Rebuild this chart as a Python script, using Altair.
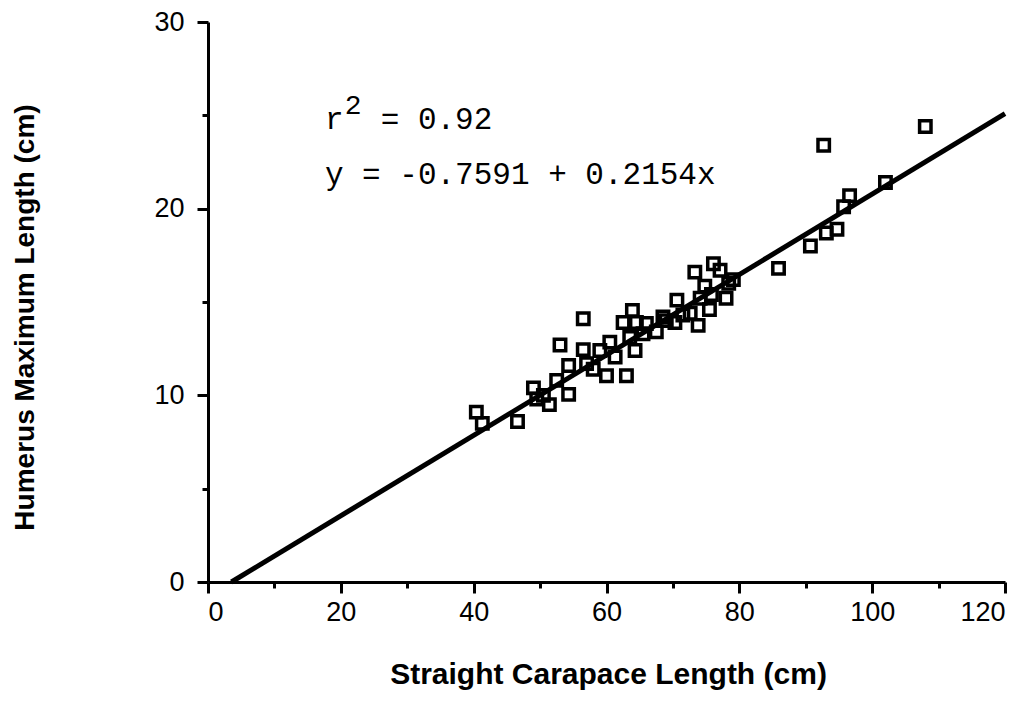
import altair as alt
import pandas as pd

scl = [40.4, 41.3, 46.6, 49.0, 49.5, 50.5, 51.4, 52.5, 53.0, 54.3,
       54.3, 56.5, 56.5, 57.0, 58.0, 59.0, 60.0, 60.5, 61.3, 62.5,
       63.0, 63.5, 63.9, 64.3, 64.5, 65.5, 66.0, 67.5, 68.5, 69.0,
       70.3, 70.6, 71.5, 72.6, 73.3, 73.8, 74.1, 74.8, 75.5, 75.8,
       76.1, 77.1, 78.0, 78.4, 79.1, 85.9, 90.7, 93.1, 94.7, 92.7,
       95.7, 96.6, 102.0, 108.0]
hml = [9.1, 8.5, 8.6, 10.4, 9.8, 10.0, 9.5, 10.8, 12.7, 10.05,
       11.6, 14.1, 12.45, 11.7, 11.4, 12.4, 11.05, 12.85, 12.05, 13.9,
       11.05, 13.1, 14.55, 12.4, 13.9, 13.3, 13.85, 13.4, 14.2, 14.0,
       13.9, 15.1, 14.3, 14.4, 16.6, 13.75, 15.2, 15.85, 14.6, 15.4,
       17.05, 16.7, 15.2, 16.0, 16.2, 16.8, 18.0, 18.7, 18.9, 23.4,
       20.1, 20.7, 21.4, 24.4]

intercept = -0.7591
slope = 0.2154
line_x = [-intercept / slope, 120.0]
line_y = [intercept + slope * v for v in line_x]

x_ticks = [0, 10, 20, 30, 40, 50, 60, 70, 80, 90, 100, 110, 120]
y_ticks = [0, 5, 10, 15, 20, 25, 30]

pts = pd.DataFrame({"scl": scl, "hml": hml})
fit = pd.DataFrame({"scl": line_x, "hml": line_y})

xscale = alt.Scale(domain=[0, 120], nice=False, zero=False)
yscale = alt.Scale(domain=[0, 30], nice=False, zero=False)

xaxis = alt.Axis(
    title="Straight Carapace Length (cm)",
    values=x_ticks,
    labelExpr="datum.value % 20 === 0 ? datum.label : ''",
    tickSize={"condition": {"test": "datum.value % 20 === 0", "value": 11}, "value": 6},
    labelPadding=6,
    titleFontSize=30,
    titleX=400, titleY=101, titleBaseline="alphabetic",
)
yaxis = alt.Axis(
    title="Humerus Maximum Length (cm)",
    values=y_ticks,
    labelExpr="datum.value % 10 === 0 ? datum.label : ''",
    tickSize={"condition": {"test": "datum.value % 10 === 0", "value": 11}, "value": 6},
    labelPadding=13,
    titleFontSize=28,
    titleX=-183, titleY=295, titleBaseline="middle", titleAlign="center", titleAngle=270,
)

points = alt.Chart(pts).mark_point(
    shape="square", filled=False, size=130, stroke="black", strokeWidth=3.5, opacity=1
).encode(
    x=alt.X("scl:Q", scale=xscale, axis=xaxis),
    y=alt.Y("hml:Q", scale=yscale, axis=yaxis),
)

reg = alt.Chart(fit).mark_line(color="black", strokeWidth=5).encode(
    x=alt.X("scl:Q", scale=xscale),
    y=alt.Y("hml:Q", scale=yscale),
)

mono = "Liberation Mono"
t_r = alt.Chart(pd.DataFrame({"t": ["r"]})).mark_text(
    font=mono, fontSize=31, align="left", baseline="alphabetic", color="black"
).encode(x=alt.datum(17.6), y=alt.datum(24.28), text="t:N")
t_sup = alt.Chart(pd.DataFrame({"t": ["2"]})).mark_text(
    font=mono, fontSize=28, align="left", baseline="alphabetic", color="black"
).encode(x=alt.datum(20.6), y=alt.datum(25.05), text="t:N")
t_eq = alt.Chart(pd.DataFrame({"t": ["= 0.92"]})).mark_text(
    font=mono, fontSize=31, align="left", baseline="alphabetic", color="black"
).encode(x=alt.datum(26.0), y=alt.datum(24.28), text="t:N")
t2 = alt.Chart(pd.DataFrame({"t": ["y = -0.7591 + 0.2154x"]})).mark_text(
    font=mono, fontSize=31, align="left", baseline="alphabetic", color="black"
).encode(x=alt.datum(17.6), y=alt.datum(21.34), text="t:N")

chart = alt.layer(reg, points, t_r, t_sup, t_eq, t2).properties(
    width=797, height=560,
    autosize=alt.AutoSizeParams(type="none"),
    padding={"left": 200, "top": 14, "right": 18, "bottom": 110},
    background="white",
).configure_view(stroke=None).configure_axis(
    grid=False,
    domainColor="black", domainWidth=3,
    tickColor="black", tickWidth=3,
    labelFont="Liberation Sans", labelFontSize=27, labelColor="black",
    titleFont="Liberation Sans", titleFontWeight="bold", titleColor="black",
)

chart.save("out.html", embed_options={"renderer": "svg", "actions": False})
